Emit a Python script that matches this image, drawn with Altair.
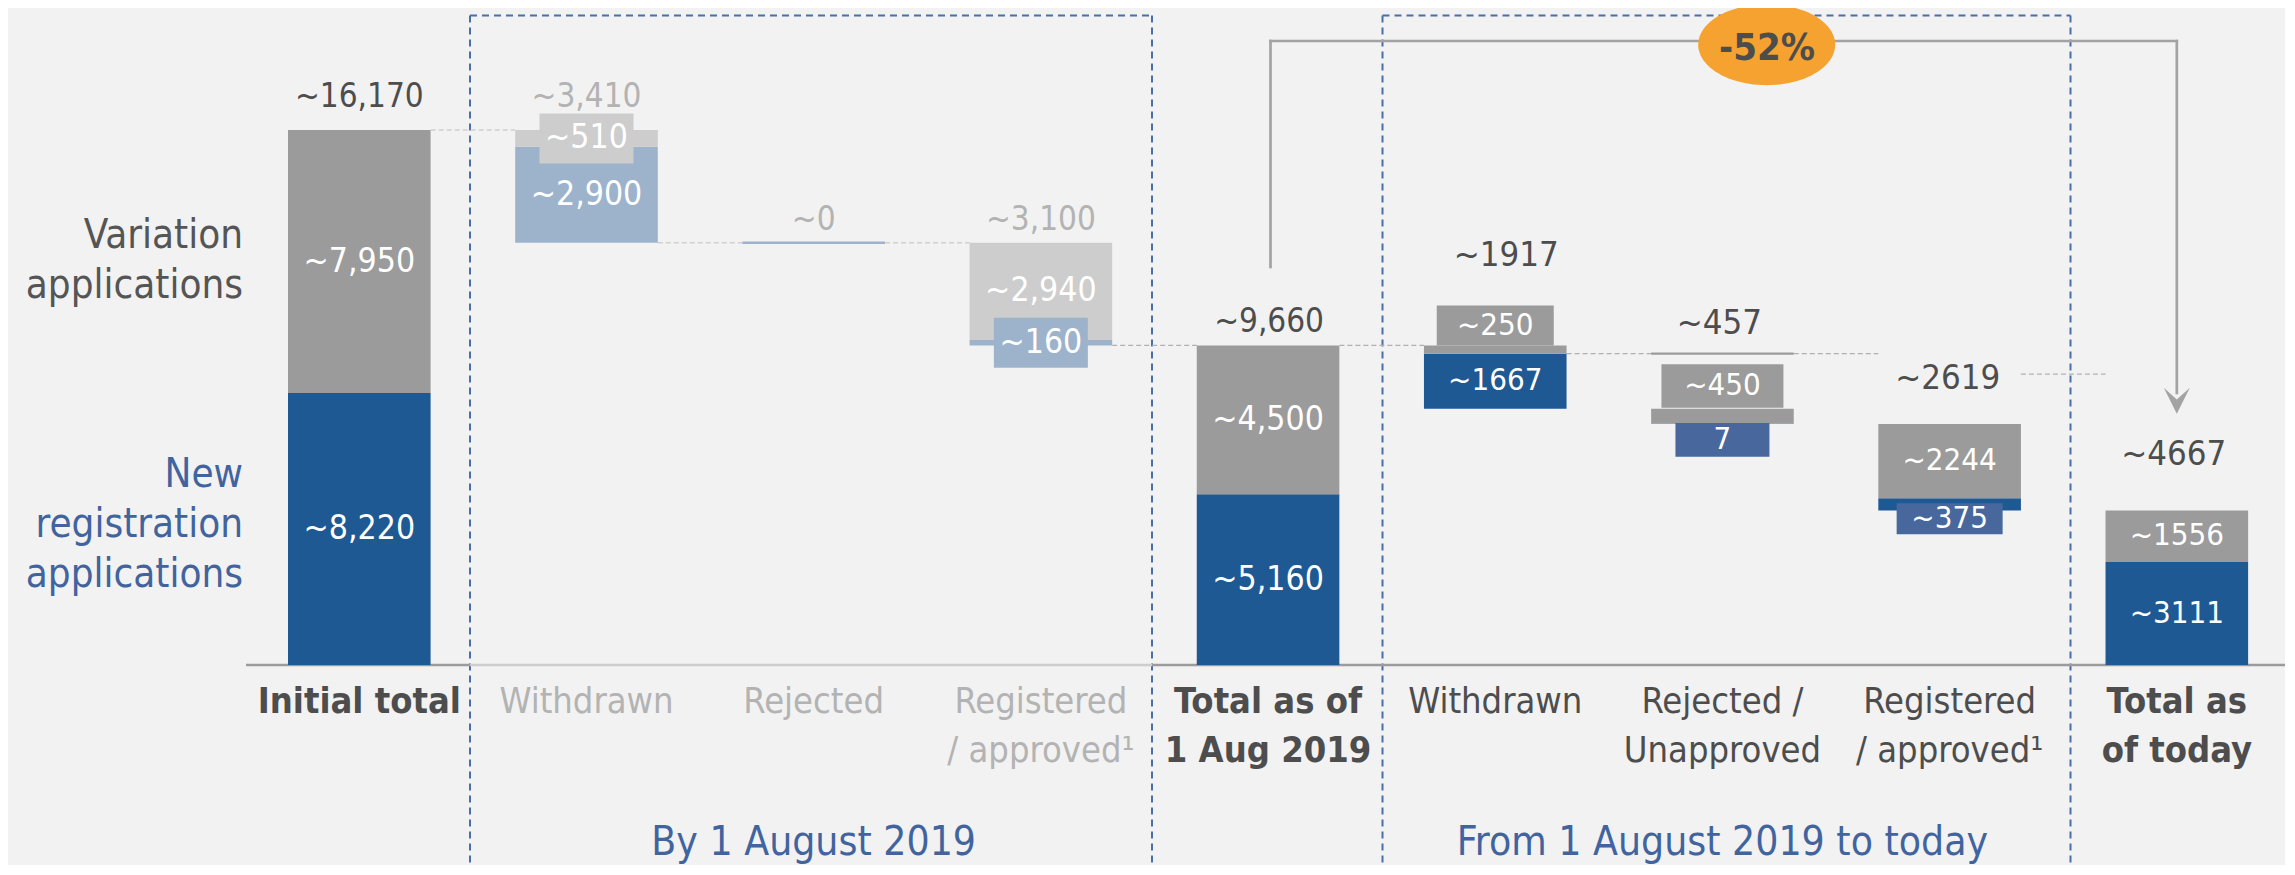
import math
import altair as alt
import pandas as pd

# ---------------- data ----------------
categories = ["Initial total", "Withdrawn", "Rejected", "Registered\n/ approved¹",
              "Total as of\n1 Aug 2019", "Withdrawn", "Rejected /\nUnapproved",
              "Registered\n/ approved¹", "Total as\nof today"]
step_kind = ["total", "delta", "delta", "delta", "total", "delta", "delta", "delta", "total"]
phase = ["start", "before", "before", "before", "mid", "after", "after", "after", "end"]
new_registration = [8220, 2900, 0, 160, 5160, 1667, 7, 375, 3111]
variation = [7950, 510, 0, 2940, 4500, 250, 450, 2244, 1556]
total_text = ["~16,170", "~3,410", "~0", "~3,100", "~9,660", "~1917", "~457", "~2619", "~4667"]
new_text = ["~8,220", "~2,900", "", "~160", "~5,160", "~1667", "7", "~375", "~3111"]
var_text = ["~7,950", "~510", "", "~2,940", "~4,500", "~250", "~450", "~2244", "~1556"]
connector_levels = [16170, 12760, 12760, 9660, 9660, 9410, 9410, 8790]
group_labels = ["By 1 August 2019", "From 1 August 2019 to today"]
group_first = [1, 5]
group_last = [3, 7]
series_labels = ["Variation\napplications", "New\nregistration\napplications"]
change_label = "-52%"
change_from, change_to = 4, 8

# ---------------- layout / style ----------------
W, H = 2277, 857
MARGIN = 8
X0_PAGE, STEP_PX = 359.3, 227.19
Y0_PAGE, UNIT_PX = 665.0, 0.033086
HALF = 71.3 / STEP_PX


def vx(px):
    return (px - X0_PAGE) / STEP_PX


def vy(py):
    return (Y0_PAGE - py) / UNIT_PX


def py(v):
    return Y0_PAGE - v * UNIT_PX


x_dom = [vx(MARGIN), vx(MARGIN + W)]
y_dom = [vy(MARGIN + H), vy(MARGIN)]

BG = "#f2f2f2"
BLUE = "#1f5994"
GRAY = "#9b9b9b"
BLUE_FADED = "#9db3cc"
GRAY_FADED = "#cdcdcd"
BLUE_BOX = "#48689d"
DARK = "#4d4d4d"
FADED_TXT = "#b3b3b3"
BLUE_TXT = "#41649f"
DASH_BLUE = "#4a6ea6"
ORANGE = "#f5a230"
LINE_GRAY = "#a3a3a3"
WIDE = "'DejaVu Sans Condensed', 'DejaVu Sans', sans-serif"

XS = alt.Scale(domain=x_dom, nice=False, zero=False)
YS = alt.Scale(domain=y_dom, nice=False, zero=False)


def X(f):
    return alt.X(f, type="quantitative", scale=XS, axis=None, title=None)


def Y(f):
    return alt.Y(f, type="quantitative", scale=YS, axis=None, title=None)


# ---------------- waterfall geometry from data ----------------
seg_rows, top_vals = [], []
level = 0
for i in range(len(categories)):
    n, v = new_registration[i], variation[i]
    if step_kind[i] == "total":
        blue, gray = (0, n), (n, n + v)
        top = n + v
        level = n + v
    else:
        gray = (level - v, level)
        blue = (level - v - n, level - v)
        top = level
        level = level - v - n
    fade = phase[i] == "before"
    seg_rows.append(dict(i=i, part="new", lo=blue[0], hi=blue[1],
                         c=BLUE_FADED if fade else BLUE, label=new_text[i]))
    seg_rows.append(dict(i=i, part="var", lo=gray[0], hi=gray[1],
                         c=GRAY_FADED if fade else GRAY, label=var_text[i]))
    top_vals.append(top)
seg = pd.DataFrame(seg_rows)
seg["x"] = seg["i"] - HALF
seg["x2"] = seg["i"] + HALF

# label boxes for thin segments: (category, part, width px, top/bottom px from segment centre, colour)
box_layout = [
    (1, "var", 94, -25, 25, GRAY_FADED),
    (3, "new", 94, -25, 25, BLUE_FADED),
    (5, "var", 117, -44, -4, GRAY),
    (6, "var", 122, -52, -8.5, GRAY),
    (6, "new", 94, -0.7, 33, BLUE_BOX),
    (7, "new", 106, -1.1, 29.9, BLUE_BOX),
]
box_rows = []
label_center = {}
for (i, part, w, a, b, col) in box_layout:
    r = seg[(seg.i == i) & (seg.part == part)].iloc[0]
    cpx = py((r.lo + r.hi) / 2)
    box_rows.append(dict(x=i - w / 2 / STEP_PX, x2=i + w / 2 / STEP_PX,
                         y=vy(cpx + a), y2=vy(cpx + b), c=col))
    label_center[(i, part)] = vy(cpx + (a + b) / 2)
boxes = pd.DataFrame(box_rows)

inner_rows = []
for r in seg.itertuples():
    if not r.label:
        continue
    yc = label_center.get((r.i, r.part), (r.lo + r.hi) / 2)
    inner_rows.append(dict(x=r.i, y=yc, text=r.label, c="#ffffff",
                           small=phase[r.i] in ("after", "end")))
inner = pd.DataFrame(inner_rows)

top_gap_px = [23.3, 23.3, 12.8, 12.8, 13.4, 79.4, 74.5, 35.0, 45.6]
top_dx_px = [0, 0, 0, 0, 1, 11, -3, -2, -3]
top_df = pd.DataFrame(dict(
    x=[i + d / STEP_PX for i, d in enumerate(top_dx_px)],
    y=[vy(py(t) - g) for t, g in zip(top_vals, top_gap_px)],
    text=total_text,
    c=[FADED_TXT if p == "before" else DARK for p in phase],
    small=[p in ("after", "end") for p in phase],
))

cat_df = pd.DataFrame(dict(
    x=list(range(len(categories))), y=vy(713.3), text=categories,
    c=[FADED_TXT if p == "before" else DARK for p in phase],
    bold=[k == "total" for k in step_kind],
))

# connectors between bars
conn = pd.DataFrame(dict(
    x=[i + HALF for i in range(len(connector_levels))],
    x2=[i + 1 - HALF for i in range(len(connector_levels))],
    y=connector_levels, y2=connector_levels,
    c=["#d0d0d0"] * 3 + ["#b0b0b0"] * 5,
))

# level lines where a step is (almost) zero height
lvl = pd.DataFrame(dict(x=[2 - HALF, 6 - HALF], x2=[2 + HALF, 6 + HALF],
                        y=[connector_levels[1], connector_levels[5]],
                        y2=[connector_levels[1], connector_levels[5]],
                        c=[BLUE_FADED, GRAY]))

# base line
bx1, bx2 = vx(470), vx(1152)
cx1, cx2 = vx(1382.5), vx(2070.5)
axis_df = pd.DataFrame(dict(x=[vx(246), bx1, bx2], x2=[bx1, bx2, x_dom[1]],
                            y=[0, 0, 0], y2=[0, 0, 0], c=[GRAY, GRAY_FADED, GRAY]))

# dashed group frames (their bottom edge lies below the visible page)
ytop, ybot = vy(15.5), y_dom[0]
frame_rows = []
for (a, b) in [(bx1, bx2), (cx1, cx2)]:
    frame_rows += [dict(x=a, x2=b, y=ytop, y2=ytop),
                   dict(x=a, x2=a, y=ytop, y2=ybot), dict(x=b, x2=b, y=ytop, y2=ybot)]
frames = pd.DataFrame(frame_rows)
frames["c"] = DASH_BLUE

group_df = pd.DataFrame(dict(x=[(a + b) / 2 for a, b in zip(group_first, group_last)],
                             y=vy(855), text=group_labels, c=BLUE_TXT))

series_df = pd.DataFrame(dict(x=vx(243), y=[vy(247.9), vy(487.2)], text=series_labels,
                              c=["#555555", BLUE_TXT]))

# bracket with arrow
bl, br = vx(1270.5), float(change_to)
yb_top = vy(41)
bracket = pd.DataFrame(dict(x=[bl, bl, br], x2=[bl, br, br],
                            y=[vy(267), yb_top, yb_top], y2=[yb_top, yb_top, vy(393)],
                            c=LINE_GRAY))
arrow_df = pd.DataFrame(dict(x=[br], y=[vy(400.8)]))
ell_df = pd.DataFrame(dict(x=[vx(1766.7)], y=[vy(44.7)]))
chg_df = pd.DataFrame(dict(x=[vx(1767)], y=[vy(59.5)], text=[change_label], c=[DARK]))

ell_pts = []
for k in range(96):
    t = 2 * math.pi * k / 96
    ell_pts.append(f"{math.cos(t):.4f},{0.5912 * math.sin(t):.4f}")
ELLIPSE = "M" + "L".join(ell_pts) + "Z"
ARROW = "M0,1L-1,-1L0,-0.1L1,-1Z"


# ---------------- layers ----------------
def rules(df, width, dash=None, cap="butt"):
    kw = dict(strokeWidth=width, strokeCap=cap)
    if dash:
        kw["strokeDash"] = dash
    return alt.Chart(df).mark_rule(**kw).encode(
        x=X("x"), x2="x2", y=Y("y"), y2="y2", color=alt.Color("c:N", scale=None))


def texts(df, size, weight="normal", align="center", baseline="alphabetic", lh=None):
    kw = dict(font=WIDE, fontSize=size, fontWeight=weight, align=align,
              baseline=baseline, lineBreak="\n")
    if lh:
        kw["lineHeight"] = lh
    return alt.Chart(df).mark_text(**kw).encode(
        x=X("x"), y=Y("y"), text="text:N", color=alt.Color("c:N", scale=None))


layers = [
    rules(frames, 2, dash=[7, 5]),
    rules(axis_df, 2.6),
    rules(conn, 1.4, dash=[5, 3]),
    alt.Chart(seg).mark_rect().encode(x=X("x"), x2="x2", y=Y("lo"), y2="hi",
                                      color=alt.Color("c:N", scale=None)),
    rules(lvl, 2.4),
    alt.Chart(boxes).mark_rect().encode(x=X("x"), x2="x2", y=Y("y"), y2="y2",
                                        color=alt.Color("c:N", scale=None)),
    texts(inner[~inner.small], 33.5, baseline="middle"),
    texts(inner[inner.small], 31, baseline="middle"),
    texts(top_df[~top_df.small], 33),
    texts(top_df[top_df.small], 34.5),
    texts(cat_df[~cat_df.bold], 36, lh=48.4),
    texts(cat_df[cat_df.bold], 36, weight="bold", lh=48.4),
    texts(group_df, 40.5),
    texts(series_df, 40, align="right", lh=50),
    rules(bracket, 2.7, cap="square"),
    alt.Chart(arrow_df).mark_point(shape=ARROW, size=26 * 26, filled=True, opacity=1,
                                   color=LINE_GRAY, strokeWidth=0).encode(x=X("x"), y=Y("y")),
    alt.Chart(ell_df).mark_point(shape=ELLIPSE, size=137 * 137, filled=True, opacity=1,
                                 color=ORANGE, strokeWidth=0).encode(x=X("x"), y=Y("y")),
    texts(chg_df, 38, weight="bold"),
]

chart = alt.layer(*layers).properties(
    width=W, height=H,
    autosize=alt.AutoSizeParams(type="none"),
    padding={"left": 0, "top": 0, "right": 0, "bottom": 0},
    background=BG,
).configure_view(stroke=None)

chart.save("out.html", embed_options={"renderer": "svg", "actions": False})
